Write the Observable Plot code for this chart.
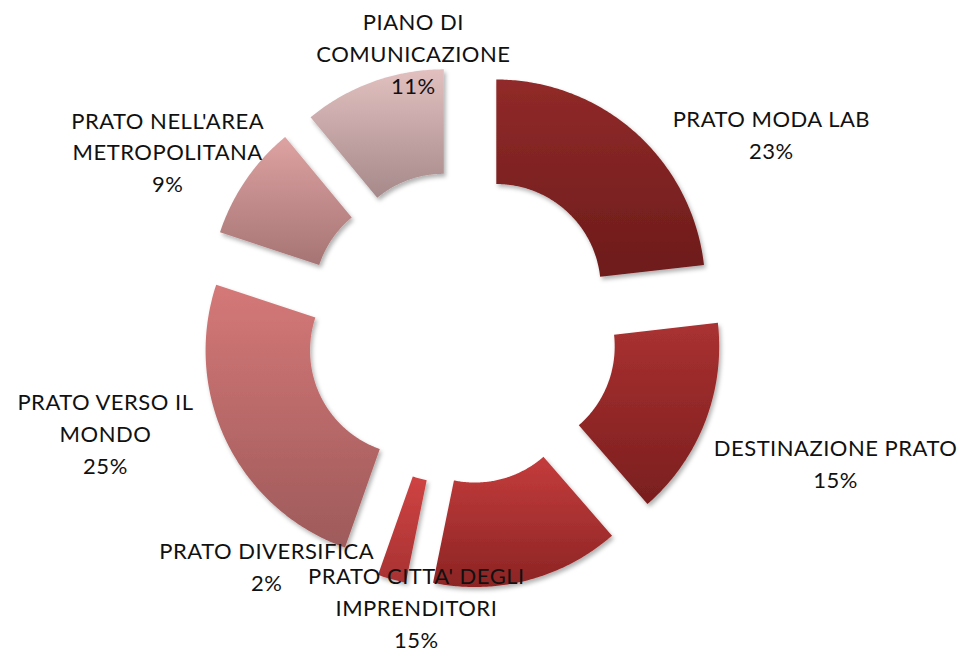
<!DOCTYPE html>
<html>
<head>
<meta charset="utf-8">
<script src="https://cdn.jsdelivr.net/npm/d3@7"></script>
<script src="https://cdn.jsdelivr.net/npm/@observablehq/plot@0.6"></script>
<style>
  body { margin: 0; background: #ffffff; }
  #chart svg { display: block; }
</style>
</head>
<body>
<div id="chart"></div>
<script>
// ---- Data ----
const categories = [
  "PRATO MODA LAB",
  "DESTINAZIONE PRATO",
  "PRATO CITTA' DEGLI\nIMPRENDITORI",
  "PRATO DIVERSIFICA",
  "PRATO VERSO IL\nMONDO",
  "PRATO NELL'AREA\nMETROPOLITANA",
  "PIANO DI\nCOMUNICAZIONE"
];
const values = [23.2, 15.4, 14.6, 2.2, 24.7, 8.9, 11.0];

// ---- Styling / layout (kept apart from the data) ----
const gradTop    = ["#912a29", "#aa3131", "#c43c3c", "#cf4343", "#d57878", "#dea2a2", "#e2c0c0"];
const gradBottom = ["#6d1b1b", "#7a1e1e", "#8c2424", "#a83232", "#9e5a5a", "#a67474", "#a6898a"];
// label block centre: angle (deg, clockwise from 12 o'clock) and radius (outer radius = 1)
const labelAngle  = [57.8, 109.7, 189.2, 219.4, 253.7, 301.1, 350.1];
const labelRadius = [1.752, 1.901, 1.350, 1.468, 1.775, 1.642, 1.340];

const innerRadius = 0.5;
const explode = 0.25;
const W = 959, H = 654;

const total = d3.sum(values);
const arcs = d3.pie().sort(null).value(d => d)(values);

// Build slice outlines in data units (x right, y up)
const rows = [];
arcs.forEach((a, i) => {
  const mid = (a.startAngle + a.endAngle) / 2;
  const ox = explode * Math.sin(mid), oy = explode * Math.cos(mid);
  const n = Math.max(8, Math.ceil((a.endAngle - a.startAngle) / 0.01));
  for (let k = 0; k <= n; k++) {
    const t = a.startAngle + (a.endAngle - a.startAngle) * k / n;
    rows.push({slice: i, x: ox + Math.sin(t), y: oy + Math.cos(t), fill: `url(#grad${i})`});
  }
  for (let k = n; k >= 0; k--) {
    const t = a.startAngle + (a.endAngle - a.startAngle) * k / n;
    rows.push({slice: i, x: ox + innerRadius * Math.sin(t), y: oy + innerRadius * Math.cos(t), fill: `url(#grad${i})`});
  }
});

const labels = categories.map((c, i) => {
  const ang = labelAngle[i] * Math.PI / 180;
  return {
    text: c + "\n" + Math.round(values[i] / total * 100) + "%",
    x: labelRadius[i] * Math.sin(ang),
    y: labelRadius[i] * Math.cos(ang)
  };
});

const unit = 209; // pixels per outer radius
const cx = 461, cy = 327;

const svg = Plot.plot({
  width: W,
  height: H,
  marginTop: 0, marginRight: 0, marginBottom: 0, marginLeft: 0,
  x: {domain: [-cx / unit, (W - cx) / unit], axis: null},
  y: {domain: [-(H - cy) / unit, cy / unit], axis: null},
  color: {type: "identity"},
  style: {background: "#ffffff", overflow: "visible", letterSpacing: "0.5px"},
  marks: [
    Plot.line(rows, {x: "x", y: "y", z: "slice", fill: "fill", stroke: "none", curve: "linear-closed"}),
    Plot.text(labels, {
      x: "x", y: "y", text: "text",
      fontSize: 22, lineHeight: 1.45,
      fontFamily: "Lato, 'Open Sans', sans-serif",
      fill: "#111111", textAnchor: "middle", lineAnchor: "middle"
    })
  ]
});

// gradients + shadow
const root = d3.select(svg);
const defs = root.insert("defs", ":first-child");
gradTop.forEach((c, i) => {
  const g = defs.append("linearGradient").attr("id", `grad${i}`)
    .attr("x1", 0).attr("y1", 0).attr("x2", 0).attr("y2", 1);
  g.append("stop").attr("offset", "0%").attr("stop-color", c);
  g.append("stop").attr("offset", "100%").attr("stop-color", gradBottom[i]);
});
const f = defs.append("filter").attr("id", "shadow")
  .attr("x", "-20%").attr("y", "-20%").attr("width", "140%").attr("height", "140%");
f.append("feDropShadow").attr("dx", 2).attr("dy", 3).attr("stdDeviation", 2)
  .attr("flood-color", "#000").attr("flood-opacity", 0.3);
root.selectAll("g[aria-label=line] path").attr("filter", "url(#shadow)");

document.getElementById("chart").appendChild(svg);
</script>
</body>
</html>
